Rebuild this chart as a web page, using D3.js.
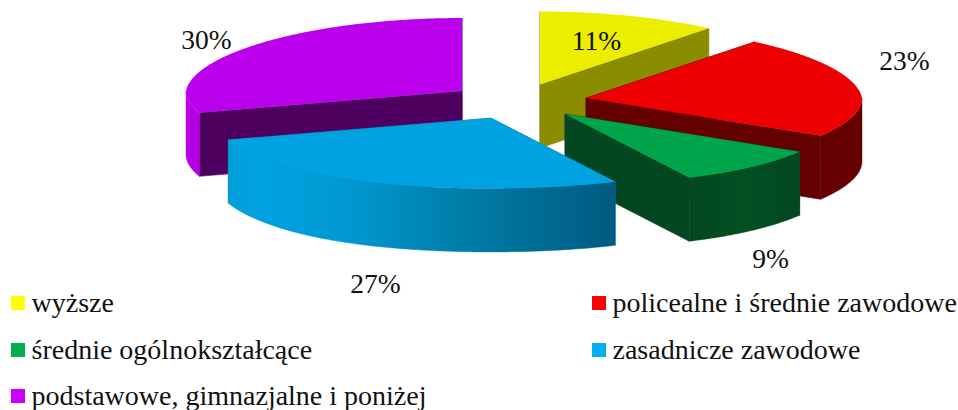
<!DOCTYPE html>
<html><head><meta charset="utf-8">
<script src="https://cdn.jsdelivr.net/npm/d3@7"></script>
<style>html,body{margin:0;padding:0;background:#fff}svg{display:block}text{font-family:"Liberation Serif",serif;fill:#111}</style>
</head><body><div id="c"></div>
<script>
const categories = ["wyższe","policealne i średnie zawodowe","średnie ogólnokształcące","zasadnicze zawodowe","podstawowe, gimnazjalne i poniżej"];
const values = [11,23,9,27,30];
const topColors = ["#eded00","#ee0000","#00a44a","#00a2e2","#ba00ec"];
const faceColors = ["#8c8c00","#640000","#024721","#0079a3","#4e0060"];
const wallColors = ["#8c8c00","#640000","url(#gG)","url(#gB)","#b500e6"];
const legendColors = ["#ffff00","#ff0000","#00b050","#00b0f0","#cc00ff"];

// layout
const W=958,H=410, R=276, depth=63.5;
const apexes=[[540,84.5],[586,98],[565,114],[491,118],[462,91]];
const labelPos=[[596.5,50],[904.5,70],[770.5,268],[375.5,293],[206.5,49]];
const legendPos=[[11,296],[592,296],[11,343],[592,343],[11,389]];

const svg=d3.select("#c").append("svg").attr("width",W).attr("height",H);
const defs=svg.append("defs");
function grad(id,stops){
  const g=defs.append("linearGradient").attr("id",id).attr("x1",0).attr("x2",1).attr("y1",0).attr("y2",0);
  stops.forEach(s=>g.append("stop").attr("offset",s[0]).attr("stop-color",s[1]));
}
grad("gB",[[0,"#009fd8"],[0.08,"#00a2e0"],[0.3,"#0099d2"],[0.62,"#007ca6"],[1,"#005a80"]]);
grad("gG",[[0,"#024721"],[0.5,"#035022"],[1,"#024721"]]);

const arcs=d3.pie().sort(null).value(d=>d)(values);
function project(i,a,dz){
  const u=Math.sin(a), v=-Math.cos(a);
  const s=v<0?1+0.052*v:1+0.085*v*v*v*v;
  return [apexes[i][0]+R*s*u, apexes[i][1]+(v<0?73:70.5)*v+(dz||0)];
}
function sweep(a0,a1){
  const n=Math.max(2,Math.ceil((a1-a0)/0.01));
  return d3.range(n+1).map(k=>a0+(a1-a0)*k/n);
}
const line=d3.line();
const drawOrder=[4,0,1,2,3];
const gs=svg.append("g").selectAll("g").data(drawOrder).join("g");
gs.each(function(i){
  const g=d3.select(this), d=arcs[i], A=apexes[i];
  [d.startAngle,d.endAngle].forEach(a=>{
    const p=project(i,a);
    g.append("path").attr("fill",faceColors[i]).attr("stroke",faceColors[i]).attr("stroke-width",0.6)
      .attr("d",line([A,p,[p[0],p[1]+depth],[A[0],A[1]+depth]])+"Z");
  });
  const w0=Math.max(d.startAngle,Math.PI/2), w1=Math.min(d.endAngle,Math.PI*1.5);
  if(w1>w0){
    const t=sweep(w0,w1);
    const pts=t.map(a=>project(i,a)).concat(t.slice().reverse().map(a=>project(i,a,depth)));
    g.append("path").attr("fill",wallColors[i]).attr("stroke",wallColors[i]).attr("stroke-width",0.4).attr("d",line(pts)+"Z");
  }
  const pts=[A].concat(sweep(d.startAngle,d.endAngle).map(a=>project(i,a)));
  g.append("path").attr("fill",topColors[i]).attr("d",line(pts)+"Z");
});

svg.append("g").selectAll("text").data(values).join("text")
  .attr("x",(d,i)=>labelPos[i][0]).attr("y",(d,i)=>labelPos[i][1])
  .attr("text-anchor","middle").attr("font-size",27.5).text(d=>d+"%");

const lg=svg.append("g").selectAll("g").data(categories).join("g")
  .attr("transform",(d,i)=>`translate(${legendPos[i][0]},${legendPos[i][1]})`);
lg.append("rect").attr("width",14).attr("height",14).attr("fill",(d,i)=>legendColors[i]);
lg.append("text").attr("x",20.5).attr("y",15.5).attr("font-size",28).text(d=>d);
</script></body></html>
